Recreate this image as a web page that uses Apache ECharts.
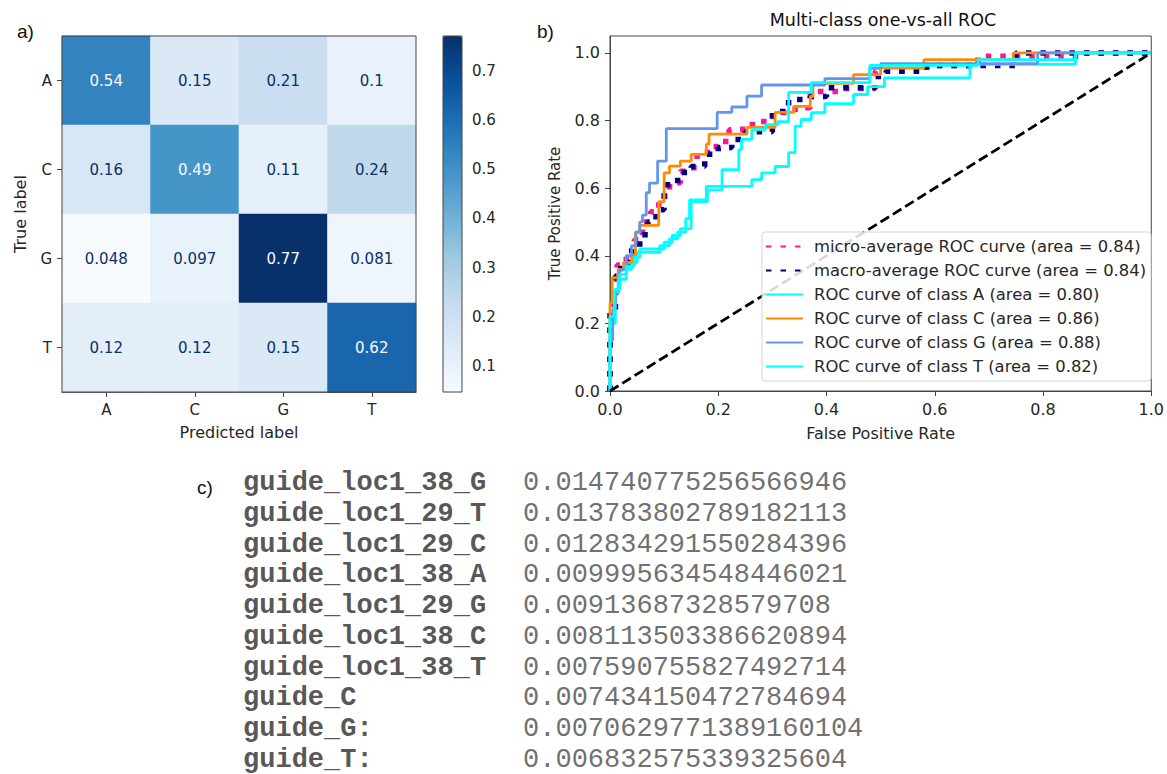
<!DOCTYPE html>
<html>
<head>
<meta charset="utf-8">
<script src="https://cdn.jsdelivr.net/npm/echarts@6/dist/echarts.min.js"></script>
<style>
html,body{margin:0;padding:0;background:#fff;}
#main{width:1167px;height:774px;}
</style>
</head>
<body>
<div id="main"></div>
<script>
// a) confusion matrix
var cmLabels = ['A', 'C', 'G', 'T'];
var cmValues = [
	[0.54, 0.15, 0.21, 0.1],
	[0.16, 0.49, 0.11, 0.24],
	[0.048, 0.097, 0.77, 0.081],
	[0.12, 0.12, 0.15, 0.62]
];
var cbTicks = [0.1, 0.2, 0.3, 0.4, 0.5, 0.6, 0.7];

// b) ROC curves (fpr, tpr)
var rocTicks = [0, 0.2, 0.4, 0.6, 0.8, 1.0];
var rocNames = ['micro-average ROC curve', 'macro-average ROC curve', 'ROC curve of class A',
	'ROC curve of class C', 'ROC curve of class G', 'ROC curve of class T'];
var rocAreas = [0.84, 0.84, 0.80, 0.86, 0.88, 0.82];
var microRoc = [[0,0],[0,0.2],[0.005,0.2],[0.005,0.29],[0.013,0.29],[0.013,0.373],[0.03,0.373],[0.03,0.4],[0.045,0.4],[0.045,0.447],[0.06,0.447],[0.06,0.5],[0.075,0.5],[0.075,0.53],[0.09,0.53],[0.09,0.575],[0.11,0.575],[0.11,0.616],[0.13,0.616],[0.13,0.65],[0.155,0.65],[0.155,0.694],[0.18,0.694],[0.18,0.723],[0.2,0.723],[0.2,0.738],[0.22,0.738],[0.22,0.773],[0.245,0.773],[0.245,0.788],[0.27,0.788],[0.27,0.797],[0.29,0.797],[0.29,0.812],[0.31,0.812],[0.31,0.824],[0.33,0.824],[0.33,0.833],[0.35,0.833],[0.35,0.838],[0.37,0.838],[0.37,0.886],[0.43,0.886],[0.43,0.895],[0.49,0.895],[0.49,0.946],[0.585,0.946],[0.585,0.963],[0.68,0.963],[0.68,0.99],[0.88,0.99],[0.88,1],[1,1]];
var macroRoc = [[0,0],[0,0.24],[0.01,0.24],[0.01,0.34],[0.02,0.34],[0.02,0.38],[0.04,0.38],[0.04,0.42],[0.055,0.42],[0.055,0.462],[0.07,0.462],[0.07,0.5],[0.085,0.5],[0.085,0.536],[0.1,0.536],[0.1,0.61],[0.125,0.61],[0.125,0.646],[0.15,0.646],[0.15,0.664],[0.175,0.664],[0.175,0.7],[0.2,0.7],[0.2,0.72],[0.225,0.72],[0.225,0.744],[0.25,0.744],[0.25,0.767],[0.3,0.767],[0.3,0.827],[0.33,0.827],[0.33,0.862],[0.37,0.862],[0.37,0.871],[0.4,0.871],[0.4,0.897],[0.49,0.897],[0.49,0.93],[0.51,0.93],[0.51,0.946],[0.585,0.946],[0.585,0.963],[0.75,0.963],[0.75,1],[1,1]];
var rocA = [[0,0],[0,0.2],[0.01,0.2],[0.01,0.29],[0.015,0.29],[0.015,0.33],[0.03,0.33],[0.03,0.36],[0.04,0.36],[0.04,0.38],[0.05,0.38],[0.05,0.41],[0.092,0.41],[0.092,0.43],[0.11,0.43],[0.11,0.45],[0.125,0.45],[0.125,0.47],[0.14,0.47],[0.14,0.51],[0.147,0.51],[0.147,0.565],[0.178,0.565],[0.178,0.605],[0.262,0.605],[0.262,0.625],[0.28,0.625],[0.28,0.645],[0.305,0.645],[0.305,0.664],[0.33,0.664],[0.33,0.705],[0.342,0.705],[0.342,0.783],[0.353,0.783],[0.353,0.803],[0.372,0.803],[0.372,0.823],[0.397,0.823],[0.397,0.85],[0.45,0.85],[0.45,0.877],[0.476,0.877],[0.476,0.9],[0.507,0.9],[0.507,0.926],[0.665,0.926],[0.665,0.966],[0.86,0.966],[0.86,1],[1,1]];
var rocC = [[0,0],[0,0.26],[0.004,0.26],[0.004,0.335],[0.015,0.335],[0.015,0.36],[0.025,0.36],[0.025,0.38],[0.04,0.38],[0.04,0.4],[0.047,0.4],[0.047,0.47],[0.055,0.47],[0.055,0.49],[0.09,0.49],[0.09,0.56],[0.1,0.56],[0.1,0.645],[0.11,0.645],[0.11,0.665],[0.13,0.665],[0.13,0.68],[0.15,0.68],[0.15,0.7],[0.178,0.7],[0.178,0.73],[0.183,0.73],[0.183,0.76],[0.253,0.76],[0.253,0.78],[0.305,0.78],[0.305,0.824],[0.34,0.824],[0.34,0.842],[0.37,0.842],[0.37,0.871],[0.375,0.871],[0.375,0.91],[0.45,0.91],[0.45,0.936],[0.5,0.936],[0.5,0.955],[0.58,0.955],[0.58,0.98],[0.745,0.98],[0.745,1],[1,1]];
var rocG = [[0,0],[0,0.15],[0.005,0.15],[0.005,0.24],[0.01,0.24],[0.01,0.3],[0.018,0.3],[0.018,0.36],[0.03,0.36],[0.03,0.4],[0.04,0.4],[0.04,0.43],[0.048,0.43],[0.048,0.47],[0.055,0.47],[0.055,0.5],[0.06,0.5],[0.06,0.52],[0.067,0.52],[0.067,0.587],[0.073,0.587],[0.073,0.615],[0.088,0.615],[0.088,0.68],[0.104,0.68],[0.104,0.776],[0.198,0.776],[0.198,0.824],[0.225,0.824],[0.225,0.84],[0.253,0.84],[0.253,0.872],[0.28,0.872],[0.28,0.905],[0.397,0.905],[0.397,0.924],[0.48,0.924],[0.48,0.954],[0.5,0.954],[0.5,0.968],[0.79,0.968],[0.79,1],[1,1]];
var rocT = [[0,0],[0,0.22],[0.008,0.22],[0.008,0.3],[0.018,0.3],[0.018,0.345],[0.03,0.345],[0.03,0.37],[0.045,0.37],[0.045,0.395],[0.055,0.395],[0.055,0.42],[0.1,0.42],[0.1,0.44],[0.115,0.44],[0.115,0.46],[0.13,0.46],[0.13,0.48],[0.15,0.48],[0.15,0.56],[0.18,0.56],[0.18,0.595],[0.207,0.595],[0.207,0.655],[0.238,0.655],[0.238,0.714],[0.243,0.714],[0.243,0.744],[0.262,0.744],[0.262,0.773],[0.287,0.773],[0.287,0.788],[0.31,0.788],[0.31,0.797],[0.33,0.797],[0.33,0.883],[0.372,0.883],[0.372,0.912],[0.48,0.912],[0.48,0.963],[0.68,0.963],[0.68,0.98],[0.86,0.98],[0.86,1],[1,1]];
var chanceLine = [[0, 0], [1, 1]];

// c) feature importance
var featureNames = ['guide_loc1_38_G', 'guide_loc1_29_T', 'guide_loc1_29_C', 'guide_loc1_38_A',
	'guide_loc1_29_G', 'guide_loc1_38_C', 'guide_loc1_38_T', 'guide_C', 'guide_G:', 'guide_T:'];
var featureScores = ['0.014740775256566946', '0.013783802789182113', '0.012834291550284396',
	'0.009995634548446021', '0.00913687328579708', '0.008113503386620894', '0.007590755827492714',
	'0.007434150472784694', '0.0070629771389160104', '0.006832575339325604'];

var FONT = 'DejaVu Sans';
var TXT = '#262626';

var chart = echarts.init(document.getElementById('main'), null, {renderer: 'svg'});

// heatmap cells
var vMin = 0.048, vMax = 0.77, thr = (vMin + vMax) / 2;
var cmData = [];
for (var r = 0; r < cmValues.length; r++) {
	for (var c = 0; c < cmValues[r].length; c++) {
		var v = cmValues[r][c];
		cmData.push({value: [c, r, v], label: {color: v >= thr ? '#f7fbff' : '#08306b'}});
	}
}

function rocSeries(name, data, color, dotted) {
	return {
		name: name, type: 'line', xAxisIndex: 2, yAxisIndex: 2,
		data: data, symbol: 'none', animation: false,
		lineStyle: dotted ? {color: color, width: 5.5, type: [5.5, 9], cap: 'butt'}
			: {color: color, width: 2.8},
		itemStyle: {color: color}
	};
}
var legendNames = rocNames.map(function (n, i) { return n + ' (area = ' + rocAreas[i].toFixed(2) + ')'; });

function axisCommon(fs) {
	return {
		axisLine: {show: true, lineStyle: {color: '#444', width: 1}},
		axisTick: {show: true, length: 5, lineStyle: {color: '#444', width: 1}},
		axisLabel: {color: TXT, fontSize: fs, fontFamily: FONT, margin: 10},
		splitLine: {show: false},
		nameTextStyle: {color: TXT, fontSize: 16, fontFamily: FONT}
	};
}
function ax(fs, extra) { return Object.assign(axisCommon(fs), extra); }
function oneDec(v) { return v.toFixed(1); }

var option = {
	animation: false,
	grid: [
		{left: 62, top: 36, width: 354, height: 356, show: true, borderColor: '#444', borderWidth: 1, z: 5},
		{left: 443, top: 36, width: 19, height: 356, show: true, borderColor: '#444', borderWidth: 1, z: 10, backgroundColor: 'transparent'},
		{left: 610, top: 36, width: 546, height: 355, show: true, borderColor: '#444', borderWidth: 1},
		{left: 243, top: 483, width: 280, height: 277}
	],
	xAxis: [
		ax(15, {type: 'category', gridIndex: 0, data: cmLabels,
			axisTick: {show: true, alignWithLabel: true, length: 5, lineStyle: {color: '#444'}},
			name: 'Predicted label', nameLocation: 'middle', nameGap: 32}),
		{type: 'value', gridIndex: 1, show: false, min: 0, max: 1},
		ax(16, {type: 'value', gridIndex: 2, min: 0, max: 1, interval: 0.2,
			axisLabel: {color: TXT, fontSize: 16, fontFamily: FONT, margin: 10, formatter: oneDec},
			name: 'False Positive Rate', nameLocation: 'middle', nameGap: 34}),
		{type: 'value', gridIndex: 3, show: false, min: 0, max: 1}
	],
	yAxis: [
		ax(15, {type: 'category', gridIndex: 0, data: cmLabels, inverse: true,
			axisTick: {show: true, alignWithLabel: true, length: 5, lineStyle: {color: '#444'}},
			name: 'True label', nameLocation: 'middle', nameGap: 34, nameRotate: 90}),
		ax(15, {type: 'value', gridIndex: 1, position: 'right', min: vMin, max: vMax,
			axisLine: {show: false},
			axisTick: {show: true, length: 5, lineStyle: {color: '#444'}, customValues: cbTicks},
			axisLabel: {color: TXT, fontSize: 15, fontFamily: FONT, margin: 10, customValues: cbTicks, formatter: oneDec}}),
		ax(16, {type: 'value', gridIndex: 2, min: 0, max: 1.05,
			axisTick: {show: true, length: 5, lineStyle: {color: '#444'}, customValues: rocTicks},
			axisLabel: {color: TXT, fontSize: 16, fontFamily: FONT, margin: 10, customValues: rocTicks, formatter: oneDec},
			name: 'True Positive Rate', nameLocation: 'middle', nameGap: 48, nameRotate: 90,
			nameTextStyle: {color: TXT, fontSize: 15, fontFamily: FONT}}),
		{type: 'category', gridIndex: 3, show: false, inverse: true, boundaryGap: false, data: featureNames}
	],
	visualMap: {
		type: 'continuous', seriesIndex: 0, min: vMin, max: vMax,
		left: 443, top: 36, itemWidth: 19, itemHeight: 356, padding: 0,
		calculable: false, hoverLink: false, orient: 'vertical',
		inRange: {color: ['#f7fbff', '#deebf7', '#c6dbef', '#9ecae1', '#6baed6', '#4292c6', '#2171b5', '#08519c', '#08306b']}
	},
	legend: {
		data: legendNames, orient: 'vertical', left: 762, top: 232,
		padding: [5, 5, 5, 3], itemGap: 5, itemWidth: 37, itemHeight: 14,
		backgroundColor: 'rgba(255,255,255,0.85)', borderColor: '#d4d4d4', borderWidth: 1, borderRadius: 3,
		selectedMode: false,
		itemStyle: {opacity: 0},
		textStyle: {color: TXT, fontSize: 16.4, fontFamily: FONT, lineHeight: 19, padding: [0, 0, 0, 6]}
	},
	graphic: [
		{type: 'text', left: 17, top: 22, style: {text: 'a)', fontSize: 19, fontFamily: 'Liberation Sans', fill: '#111'}},
		{type: 'text', left: 537, top: 22, style: {text: 'b)', fontSize: 19, fontFamily: 'Liberation Sans', fill: '#111'}},
		{type: 'text', left: 197, top: 478, style: {text: 'c)', fontSize: 19, fontFamily: 'Liberation Sans', fill: '#111'}},
		{type: 'text', x: 883, y: 20, style: {text: 'Multi-class one-vs-all ROC', fontSize: 17.5, fontFamily: FONT, fill: '#111', align: 'center', verticalAlign: 'middle'}}
	],
	series: [
		{
			type: 'heatmap', xAxisIndex: 0, yAxisIndex: 0, data: cmData,
			itemStyle: {borderWidth: 0},
			label: {show: true, fontSize: 15, fontFamily: FONT, formatter: function (p) { return String(p.value[2]); }},
			emphasis: {disabled: true}
		},
		rocSeries(legendNames[0], microRoc, '#ff1493', true),
		rocSeries(legendNames[1], macroRoc, '#000080', true),
		rocSeries(legendNames[2], rocA, '#00ffff', false),
		rocSeries(legendNames[3], rocC, '#ff8c00', false),
		rocSeries(legendNames[4], rocG, '#6495ed', false),
		rocSeries(legendNames[5], rocT, '#00ffff', false),
		{
			type: 'line', xAxisIndex: 2, yAxisIndex: 2, data: chanceLine, symbol: 'none',
			lineStyle: {color: '#000', width: 2.8, type: [10, 4.5]}
		},
		{
			type: 'scatter', xAxisIndex: 3, yAxisIndex: 3, symbolSize: 0.1, itemStyle: {color: 'transparent'},
			data: featureNames.map(function (n) { return [0, n]; }),
			label: {show: true, position: 'right', distance: 0, fontSize: 27, fontWeight: 'bold', fontFamily: 'Liberation Mono', color: '#2a2a2a',
				formatter: function (p) { return featureNames[p.dataIndex]; }}
		},
		{
			type: 'scatter', xAxisIndex: 3, yAxisIndex: 3, symbolSize: 0.1, itemStyle: {color: 'transparent'},
			data: featureNames.map(function (n) { return [1, n]; }),
			label: {show: true, position: 'right', distance: 0, fontSize: 27, fontFamily: 'Liberation Mono', color: '#4a4a4a',
				formatter: function (p) { return featureScores[p.dataIndex]; }}
		}
	]
};
chart.setOption(option);
</script>
</body>
</html>
